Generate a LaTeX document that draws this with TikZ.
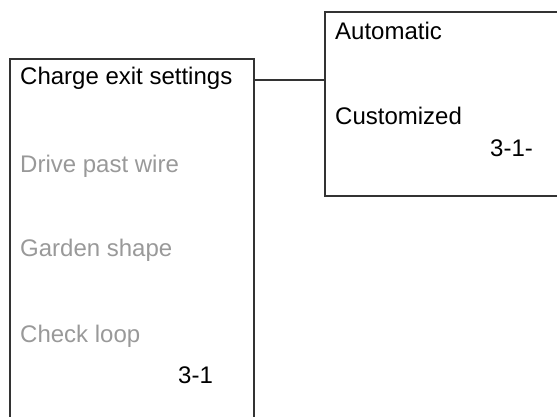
\documentclass[tikz,border=0pt]{standalone}
\usepackage{fontspec}
\setmainfont{Liberation Sans}
\usetikzlibrary{positioning}

\definecolor{frameline}{HTML}{333333}
\definecolor{greyitem}{HTML}{999999}

\tikzset{
    menubox/.style={draw=frameline, line width=1.3pt, inner sep=0pt},
    item/.style={anchor=base west, inner sep=0pt, font=\fontsize{24}{28}\selectfont},
    activeitem/.style={item, text=black},
    greyeditem/.style={item, text=greyitem},
}

\begin{document}
\begin{tikzpicture}[x=1pt, y=-1pt]
    \useasboundingbox (0,0) rectangle (557,417);
    \clip (0,0) rectangle (557,417);

    % Menu boxes (both run past the picture edge)
    \draw[menubox] (10,430) |- (254,59) -- (254,430);
    \draw[menubox] (570,12) -| (325,196) -- (570,196);
    \coordinate (mainR) at (254,80);
    \coordinate (subL) at (325,80);

    % Main menu
    \node[activeitem] (exit) at (20,85) {Charge exit settings};
    \node[greyeditem] (drive) at (20,172) {Drive past wire};
    \node[greyeditem] (garden) at (20,256) {Garden shape};
    \node[greyeditem] (check) at (20,342) {Check loop};
    \node[activeitem] (mainno) at (178,383) {3-1};

    % Sub menu
    \node[activeitem] (auto) at (335,40) {Automatic};
    \node[activeitem] (custom) at (335,125) {Customized};
    \node[activeitem] (subno) at (490,157) {3-1-};

    % Connector
    \draw[menubox] (mainR) -- (subL);
\end{tikzpicture}
\end{document}
